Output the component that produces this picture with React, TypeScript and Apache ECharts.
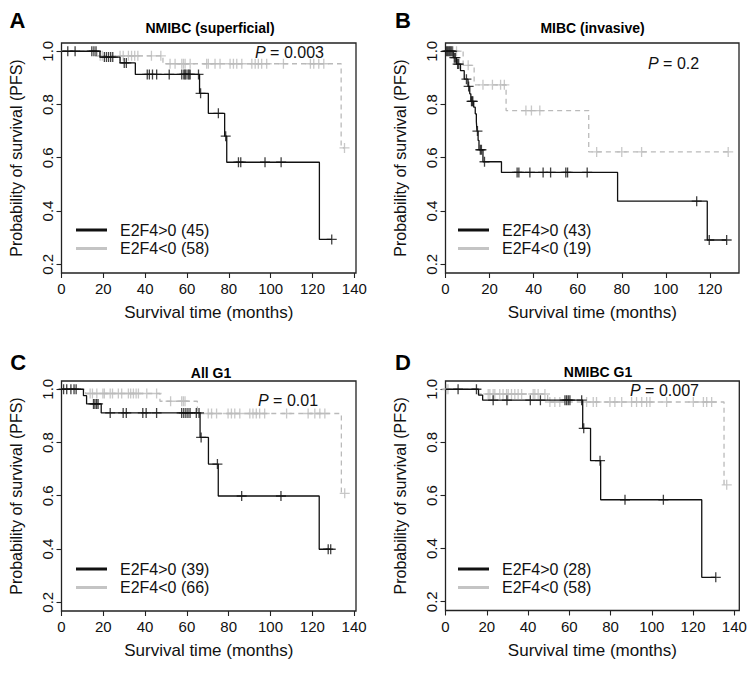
import React, { useEffect, useRef } from 'react';
import * as echarts from 'echarts';

type Pt = [number, number];

// ---------- Data ----------
// Panel A: NMIBC (superficial)
const aBlackDrops: Pt[] = [[18.4, 0.978], [28, 0.956], [35.3, 0.913], [66, 0.842], [70.2, 0.767], [78, 0.681], [79, 0.583], [123.3, 0.293]];
const aBlackCens: number[] = [3, 6.5, 14.5, 15.5, 16.5, 20.5, 21.5, 22.5, 23.5, 24.5, 30, 31, 41, 42, 43.5, 45.5, 51.5, 57.5, 58.5, 59, 59.5, 60.5, 61, 61.5, 65.5, 66.5, 75, 78.5, 84.6, 85.7, 97.3, 105, 129.2];
const aGrayDrops: Pt[] = [[17, 0.983], [48.5, 0.953], [133.7, 0.637]];
const aGrayCens: number[] = [18.5, 19.5, 28, 29.5, 32, 33.5, 35, 36.5, 43, 47.5, 51.9, 54.3, 57.5, 58.3, 59.1, 61.5, 69.4, 70.2, 73.4, 75.8, 80.6, 82.2, 83.8, 86.2, 91, 92.6, 94.1, 95.7, 98.1, 106.1, 119, 120.6, 123, 125.4, 135.3];

// Panel B: MIBC (invasive)
const bBlackDrops: Pt[] = [[3.5, 0.976], [5, 0.952], [6.8, 0.927], [8.5, 0.895], [10.2, 0.868], [11, 0.84], [11.5, 0.812], [12.8, 0.79], [13.5, 0.765], [14, 0.735], [14.3, 0.7], [14.8, 0.665], [15.2, 0.63], [17, 0.585], [25.4, 0.545], [78.1, 0.437], [118.8, 0.291]];
const bBlackCens: number[] = [0.5, 1, 1.5, 2, 2.5, 3, 4, 4.5, 5.5, 6, 9.5, 10.5, 11.8, 12.1, 12.4, 14.5, 15.8, 16.3, 17.7, 32.5, 33.3, 38.3, 44.3, 47.7, 54.6, 55.4, 64.3, 114, 119.7, 127.6];
const bGrayDrops: Pt[] = [[8, 0.947], [13, 0.874], [27.5, 0.777], [65, 0.622]];
const bGrayCens: number[] = [2, 3.5, 5, 10.3, 17, 21.3, 25, 26.7, 36.5, 39, 42.8, 68.6, 80, 89, 128.3];

// Panel C: All G1
const cBlackDrops: Pt[] = [[10.5, 0.976], [12, 0.945], [19, 0.911], [66.3, 0.819], [70.3, 0.719], [75, 0.599], [123.3, 0.399]];
const cBlackCens: number[] = [1, 2.5, 4.5, 6, 7, 15.3, 16, 16.8, 17.5, 23.3, 29.5, 31, 38.9, 40.5, 45.5, 57.5, 58.5, 59.5, 60.5, 61.5, 64.5, 65.8, 66.8, 74.6, 86.2, 105, 127.6, 128.8];
const cGrayDrops: Pt[] = [[11.5, 0.984], [47.1, 0.955], [65, 0.909], [133.9, 0.609]];
const cGrayCens: number[] = [13.7, 14.8, 16.9, 19.8, 20.5, 23.3, 24.4, 27.2, 28.8, 32, 33.1, 34.4, 35.7, 36.8, 40.8, 45.5, 52.2, 57.5, 58.3, 59.1, 70.2, 71.8, 74.2, 79.7, 81.3, 82.9, 85.3, 90.1, 91.6, 93.2, 94.8, 97.2, 107.7, 118, 121.2, 123.6, 126, 135.5];

// Panel D: NMIBC G1
const dBlackDrops: Pt[] = [[16, 0.978], [18, 0.959], [66.5, 0.853], [70.3, 0.731], [75.2, 0.584], [124.2, 0.292]];
const dBlackCens: number[] = [6.1, 15, 23.1, 29.8, 41.1, 46, 57.9, 58.7, 59.5, 60.3, 66, 67, 74.9, 87, 105.6, 131];
const dGrayDrops: Pt[] = [[16, 0.982], [49.5, 0.952], [135, 0.64]];
const dGrayCens: number[] = [0.5, 1.2, 20.7, 21.5, 23.1, 23.9, 26.3, 27.9, 29.6, 30.4, 32, 33.6, 35.2, 36.9, 42.5, 43.3, 44.9, 48.2, 50.6, 53, 55.4, 68.4, 71.6, 73.2, 79.7, 82.1, 85.4, 90.2, 92.6, 95.1, 97.5, 99.1, 107.2, 120.1, 125, 126.6, 129, 136.3];

const panelLetters = ['A', 'B', 'C', 'D'];
const panelTitles = ['NMIBC (superficial)', 'MIBC (invasive)', 'All G1', 'NMIBC G1'];
const pValues = ['0.003', '0.2', '0.01', '0.007'];
const nPositive = [45, 43, 39, 28];
const nNegative = [58, 19, 66, 58];
const xTicks140 = [0, 20, 40, 60, 80, 100, 120, 140];
const xTicks120 = [0, 20, 40, 60, 80, 100, 120];
const yTicks = [0.2, 0.4, 0.6, 0.8, 1.0];
const xAxisTitle = 'Survival time (months)';
const yAxisTitle = 'Probability of survival (PFS)';

const blackDropsAll = [aBlackDrops, bBlackDrops, cBlackDrops, dBlackDrops];
const blackCensAll = [aBlackCens, bBlackCens, cBlackCens, dBlackCens];
const grayDropsAll = [aGrayDrops, bGrayDrops, cGrayDrops, dGrayDrops];
const grayCensAll = [aGrayCens, bGrayCens, cGrayCens, dGrayCens];
const xTicksAll = [xTicks140, xTicks120, xTicks140, xTicks140];

// ---------- Layout ----------
const layouts = [
  { left: 61.5, top: 43, width: 294.5, height: 230, xMax: 140.8, titleX: 210, titleY: 28, letterX: 17.5, letterY: 20, pX: 255, pY: 52, legX: 76, legY: 230 },
  { left: 445.5, top: 43, width: 293.5, height: 230, xMax: 133.2, titleX: 592.5, titleY: 28, letterX: 403, letterY: 20, pX: 648, pY: 63, legX: 458, legY: 230 },
  { left: 61.5, top: 381, width: 294.5, height: 230, xMax: 140.9, titleX: 211, titleY: 373, letterX: 18.3, letterY: 362, pX: 258, pY: 400, legX: 76, legY: 569 },
  { left: 445.5, top: 381, width: 293.8, height: 229.5, xMax: 142.4, titleX: 598, titleY: 372, letterX: 403, letterY: 362, pX: 630, pY: 390, legX: 458, legY: 569 },
];

const FONT = '"Liberation Sans", Arial, Helvetica, sans-serif';
const BLACK = '#111111';
const GRAY = '#bababa';
const PLUS = 'path://M4.35,0H5.65V10H4.35Z M0,4.35H10V5.65H0Z';

function lineData(drops: Pt[], cens: number[]): Pt[] {
  const pts: Pt[] = [[0, 1]];
  drops.forEach((d) => pts.push([d[0], d[1]]));
  const last = drops[drops.length - 1];
  const maxC = Math.max(...cens);
  if (maxC > last[0]) pts.push([maxC, last[1]]);
  return pts;
}
function survAt(drops: Pt[], t: number): number {
  let s = 1;
  for (const d of drops) if (d[0] <= t) s = d[1];
  return s;
}
function censData(drops: Pt[], cens: number[]): Pt[] {
  return cens.map((t) => [t, survAt(drops, t)] as Pt);
}

function buildOption() {
  const grid: any[] = [];
  const xAxis: any[] = [];
  const yAxis: any[] = [];
  const series: any[] = [];
  const graphic: any[] = [];

  layouts.forEach((l, i) => {
    grid.push({ left: l.left, top: l.top, width: l.width, height: l.height, show: true, borderColor: '#222', borderWidth: 1.3, backgroundColor: 'transparent' });
    xAxis.push({
      gridIndex: i, type: 'value', min: 0, max: l.xMax,
      axisLine: { show: false }, splitLine: { show: false },
      axisTick: { show: true, length: 5, lineStyle: { color: '#222', width: 1.1 }, customValues: xTicksAll[i] },
      axisLabel: { customValues: xTicksAll[i], fontSize: 15, color: BLACK, margin: 8, fontFamily: FONT },
      name: xAxisTitle, nameLocation: 'middle', nameGap: 31,
      nameTextStyle: { fontSize: 17, color: BLACK, fontFamily: FONT },
    });
    yAxis.push({
      gridIndex: i, type: 'value', min: 0.167, max: 1.031,
      axisLine: { show: false }, splitLine: { show: false },
      axisTick: { show: true, length: 5, lineStyle: { color: '#222', width: 1.1 }, customValues: yTicks },
      axisLabel: { customValues: yTicks, fontSize: 15, color: BLACK, margin: 7, rotate: 90, fontFamily: FONT, formatter: (v: number) => v.toFixed(1) },
      name: yAxisTitle, nameLocation: 'middle', nameGap: 37,
      nameTextStyle: { fontSize: 16, color: BLACK, fontFamily: FONT },
    });
    series.push(
      { type: 'line', xAxisIndex: i, yAxisIndex: i, data: lineData(grayDropsAll[i], grayCensAll[i]), step: 'end', symbol: 'none', lineStyle: { color: GRAY, width: 1.3, type: [5, 4] }, silent: true, z: 2 },
      { type: 'scatter', xAxisIndex: i, yAxisIndex: i, data: censData(grayDropsAll[i], grayCensAll[i]), symbol: PLUS, symbolSize: 10, itemStyle: { color: GRAY }, silent: true, z: 3 },
      { type: 'line', xAxisIndex: i, yAxisIndex: i, data: lineData(blackDropsAll[i], blackCensAll[i]), step: 'end', symbol: 'none', lineStyle: { color: BLACK, width: 1.3 }, silent: true, z: 4 },
      { type: 'scatter', xAxisIndex: i, yAxisIndex: i, data: censData(blackDropsAll[i], blackCensAll[i]), symbol: PLUS, symbolSize: 10, itemStyle: { color: BLACK }, silent: true, z: 5 },
    );
    graphic.push(
      { type: 'text', x: l.letterX, y: l.letterY, style: { text: panelLetters[i], fontSize: 22, fontWeight: 'bold', fontFamily: FONT, fill: '#000', align: 'center', verticalAlign: 'middle' } },
      { type: 'text', x: l.titleX, y: l.titleY, style: { text: panelTitles[i], fontSize: 14, fontWeight: 'bold', fontFamily: FONT, fill: '#000', align: 'center', verticalAlign: 'middle' } },
      { type: 'text', x: l.pX, y: l.pY, style: { text: '{i|P} = ' + pValues[i], fontSize: 16, fontFamily: FONT, fill: BLACK, align: 'left', verticalAlign: 'middle', rich: { i: { fontStyle: 'italic', fontSize: 16, fontFamily: FONT, fill: BLACK } } } },
      { type: 'line', shape: { x1: l.legX, y1: l.legY, x2: l.legX + 31, y2: l.legY }, style: { stroke: BLACK, lineWidth: 3 } },
      { type: 'line', shape: { x1: l.legX, y1: l.legY + 18.5, x2: l.legX + 31, y2: l.legY + 18.5 }, style: { stroke: '#c4c4c4', lineWidth: 3 } },
      { type: 'text', x: l.legX + 44, y: l.legY, style: { text: 'E2F4>0 (' + nPositive[i] + ')', fontSize: 16, fontFamily: FONT, fill: BLACK, align: 'left', verticalAlign: 'middle' } },
      { type: 'text', x: l.legX + 44, y: l.legY + 18.5, style: { text: 'E2F4<0 (' + nNegative[i] + ')', fontSize: 16, fontFamily: FONT, fill: BLACK, align: 'left', verticalAlign: 'middle' } },
    );
  });

  return { animation: false, backgroundColor: '#fff', grid, xAxis, yAxis, series, graphic };
}

export default function App() {
  const ref = useRef<HTMLDivElement>(null);
  useEffect(() => {
    const chart = echarts.init(ref.current!, null, { renderer: 'svg' });
    chart.setOption(buildOption() as any);
    return () => chart.dispose();
  }, []);
  return <div ref={ref} style={{ position: 'absolute', left: 0, top: 0, width: 756, height: 673, background: '#fff' }} />;
}
